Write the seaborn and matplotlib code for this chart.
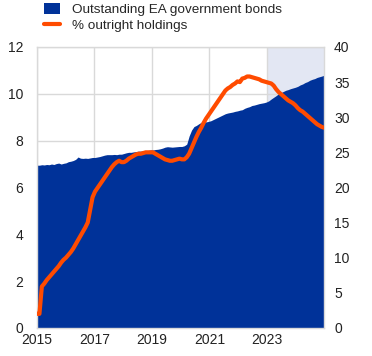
import numpy as np
import pandas as pd
import matplotlib
matplotlib.use("Agg")
import matplotlib.pyplot as plt
import seaborn as sns
from matplotlib.patches import Patch
from matplotlib.lines import Line2D

# monthly values, Jan 2015 - Dec 2024
bonds = [
    6.95, 6.95, 6.97, 6.96, 6.98, 6.97, 7.00, 6.98, 7.02, 7.04, 7.00, 7.03,
    7.05, 7.10, 7.12, 7.15, 7.20, 7.30, 7.25, 7.24, 7.25, 7.24, 7.26, 7.28,
    7.28, 7.30, 7.32, 7.35, 7.38, 7.40, 7.40, 7.40, 7.41, 7.40, 7.42, 7.42,
    7.45, 7.48, 7.50, 7.50, 7.52, 7.53, 7.55, 7.55, 7.56, 7.57, 7.58, 7.60,
    7.60, 7.62, 7.63, 7.65, 7.68, 7.72, 7.74, 7.73, 7.72, 7.73, 7.74, 7.75,
    7.75, 7.78, 7.85, 8.20, 8.45, 8.60, 8.65, 8.72, 8.78, 8.80, 8.80, 8.82,
    8.85, 8.90, 8.95, 9.00, 9.05, 9.10, 9.15, 9.18, 9.20, 9.22, 9.25, 9.27,
    9.30, 9.32, 9.38, 9.42, 9.45, 9.50, 9.52, 9.55, 9.58, 9.60, 9.62, 9.65,
    9.70, 9.78, 9.85, 9.92, 10.00, 10.05, 10.10, 10.15, 10.18, 10.22, 10.25, 10.28,
    10.32, 10.38, 10.42, 10.48, 10.52, 10.58, 10.62, 10.65, 10.70, 10.73, 10.76, 10.80,
]
holdings = [
    2.0, 2.0, 5.9, 6.3, 6.8, 7.2, 7.6, 8.0, 8.4, 8.8, 9.3, 9.7,
    10.0, 10.4, 10.8, 11.3, 11.9, 12.5, 13.1, 13.7, 14.3, 15.0, 16.8, 18.6,
    19.4, 19.9, 20.4, 20.9, 21.4, 21.9, 22.4, 22.9, 23.3, 23.6, 23.8, 23.6,
    23.6, 23.8, 24.1, 24.3, 24.5, 24.7, 24.8, 24.8, 24.9, 25.0, 25.0, 25.0,
    25.0, 24.8, 24.6, 24.4, 24.2, 24.0, 23.9, 23.8, 23.8, 23.9, 24.0, 24.1,
    24.0, 24.0, 24.3, 24.8, 25.6, 26.4, 27.2, 27.9, 28.5, 29.2, 29.8, 30.3,
    30.8, 31.3, 31.8, 32.3, 32.8, 33.3, 33.8, 34.1, 34.3, 34.6, 34.8, 35.1,
    35.0, 35.5, 35.6, 35.8, 35.8, 35.7, 35.6, 35.5, 35.4, 35.2, 35.1, 35.0,
    34.9, 34.8, 34.5, 34.0, 33.6, 33.3, 33.0, 32.7, 32.4, 32.2, 32.0, 31.7,
    31.3, 31.0, 30.8, 30.5, 30.2, 29.9, 29.6, 29.3, 29.0, 28.8, 28.6, 28.5,
]
year_ticks = [2015, 2017, 2019, 2021, 2023]

blue = "#003299"
orange = "#ff4b00"
shade = "#e3e7f3"
grid = "#d9d9d9"

# monthly observations stretched over the full 2015-2025 axis
df = pd.DataFrame({
    "t": np.linspace(2015, 2025, len(bonds)),
    "bonds": bonds,
    "holdings": holdings,
})

sns.set_style("white")
plt.rcParams["font.family"] = ["Liberation Sans", "DejaVu Sans"]
plt.rcParams["font.size"] = 10

fig = plt.figure(figsize=(3.72, 3.56), dpi=100)
ax = fig.add_axes([0.0995, 0.079, 0.7725, 0.789])

ax.axvspan(2023, 2025, color=shade, zorder=0, lw=0)
ax.fill_between(df["t"], 0, df["bonds"], color=blue, lw=0, zorder=2)
ax.set_xlim(2015, 2025)
ax.set_ylim(0, 12)
ax.set_yticks(range(0, 13, 2))
ax.set_xticks(year_ticks)
ax.set_xticklabels([str(y) for y in year_ticks])
ax.grid(True, color=grid, lw=1, zorder=1)
ax.set_axisbelow(True)
ax.tick_params(axis="y", length=0, pad=10, labelcolor="#222222")
ax.tick_params(axis="x", length=0, pad=4, labelcolor="#222222")
ax.set_xlabel("")
ax.set_ylabel("")
for s in ax.spines.values():
    s.set_color(grid)
    s.set_linewidth(1)

ax2 = ax.twinx()
sns.lineplot(data=df, x="t", y="holdings", ax=ax2, color=orange, lw=3, zorder=3)
ax2.set_ylim(0, 40)
ax2.set_yticks(range(0, 41, 5))
ax2.set_xlim(2015, 2025)
ax2.tick_params(axis="y", length=0, pad=7, labelcolor="#222222")
ax2.set_xlabel("")
ax2.set_ylabel("")
for s in ax2.spines.values():
    s.set_visible(False)

handles = [Patch(facecolor=blue, edgecolor="none"),
           Line2D([0], [0], color=orange, lw=3)]
fig.legend(handles, ["Outstanding EA government bonds", "% outright holdings"],
           loc="upper left", bbox_to_anchor=(0.085, 1.027), frameon=False,
           handlelength=1.2, handleheight=0.9, handletextpad=0.9,
           labelspacing=0.2, fontsize=9.7)

fig.savefig("out.png", dpi=100)
